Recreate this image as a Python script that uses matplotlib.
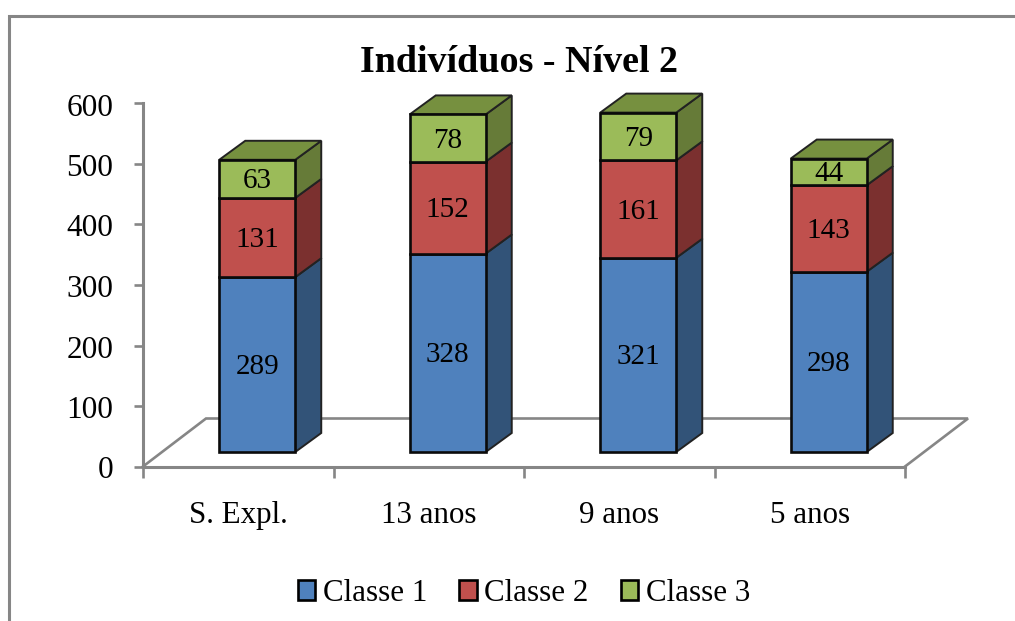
import numpy as np
import matplotlib
matplotlib.use('Agg')
import matplotlib.pyplot as plt
from matplotlib.lines import Line2D
from matplotlib.patches import Patch, Polygon
from matplotlib.transforms import ScaledTranslation

plt.rcParams['font.family'] = ['Liberation Serif', 'DejaVu Serif']

categories = ['S. Expl.', '13 anos', '9 anos', '5 anos']
classe1 = [289, 328, 321, 298]
classe2 = [131, 152, 161, 143]
classe3 = [63, 78, 79, 44]
series_names = ['Classe 1', 'Classe 2', 'Classe 3']
yticks = [0, 100, 200, 300, 400, 500, 600]

front_cols = ['#4F81BD', '#C0504D', '#9BBB59']
side_cols = ['#325378', '#7B302F', '#667B38']
top_cols = ['#3D6593', '#95403D', '#76903F']
grey = '#868686'

W, H = 1015, 621
fig = plt.figure(figsize=(W / 100, H / 100), dpi=100)
# axes box in pixels: x 143-905, y 103.5-466.5
ax = fig.add_axes([143 / W, 1 - 466.5 / H, 762 / W, 363 / H])
ax.set_xlim(0, 4)
ax.set_ylim(0, 600)

px = 4 / 762         # data x per pixel
py = 600 / 363       # data y per pixel
lift = 14.5 * py     # bars stand on the middle of the floor
shift = 19 * px
dx, dy = 26 * px, 19 * py
bw = 76 * px
floor_x, floor_y = 63 * px, 48 * py

# floor
ax.plot([0, floor_x, 4 + floor_x, 4], [0, floor_y, floor_y, 0], color=grey, lw=1.9,
        clip_on=False, zorder=1, solid_joinstyle='miter')

data = [classe1, classe2, classe3]
for i in range(len(categories)):
    x0 = i + 0.5 + shift - bw / 2
    base = lift
    for s in range(3):
        v = data[s][i]
        x1 = x0 + bw
        # side face
        ax.add_patch(Polygon([(x1, base), (x1 + dx, base + dy), (x1 + dx, base + v + dy), (x1, base + v)],
                             facecolor=side_cols[s], edgecolor='#222222', lw=1.4, clip_on=False, zorder=3))
        # top face
        if s == 2:
            ax.add_patch(Polygon([(x0, base + v), (x0 + dx, base + v + dy), (x1 + dx, base + v + dy), (x1, base + v)],
                                 facecolor=top_cols[s], edgecolor='#222222', lw=1.4, clip_on=False, zorder=3))
        ax.bar(x0 + bw / 2, v, bw, bottom=base, color=front_cols[s], edgecolor='#0a0a0a', lw=1.9,
               zorder=4, clip_on=False)
        ax.text(x0 + bw / 2, base + v / 2 - 2.5 * py, str(v), ha='center', va='center', fontsize=21,
                color='black', zorder=5)
        base += v

for sp in ['top', 'right']:
    ax.spines[sp].set_visible(False)
for sp in ['left', 'bottom']:
    ax.spines[sp].set_color(grey)
    ax.spines[sp].set_linewidth(2.2)

ax.set_yticks(yticks)
ax.tick_params(axis='y', length=6.5, width=1.9, color=grey, pad=15, labelsize=22.5)
# y labels sit about one pixel lower in the reference
for lab in ax.get_yticklabels():
    lab.set_transform(lab.get_transform() + ScaledTranslation(0, -1 / 100, fig.dpi_scale_trans))
ax.set_xticks(np.arange(5))
ax.set_xticklabels([])
ax.set_xticks(np.arange(4) + 0.5, categories, minor=True)
ax.tick_params(axis='x', which='major', length=8, width=1.9, color=grey)
ax.tick_params(axis='x', which='minor', length=0, pad=25, labelsize=22.3)

fig.text(519 / W, 1 - 62 / H, 'Indivíduos - Nível 2', ha='center', va='center',
         fontsize=27.4, fontweight='bold')

handles = [Patch(facecolor=c, edgecolor='black', lw=1.9) for c in front_cols]
fig.legend(handles, series_names, loc='center', bbox_to_anchor=(524 / W, 1 - 593.5 / H), ncol=3,
           frameon=False, fontsize=22.3, handlelength=0.55, handleheight=0.58,
           handletextpad=0.25, columnspacing=1.045, borderpad=0, borderaxespad=0)

# chart area border, only left and top show up
fig.add_artist(Line2D([8.5 / W, 8.5 / W, 1], [0, 1 - 15.5 / H, 1 - 15.5 / H], color=grey, lw=2.2,
                      transform=fig.transFigure, solid_joinstyle='miter'))

fig.savefig('out.png', dpi=100)
